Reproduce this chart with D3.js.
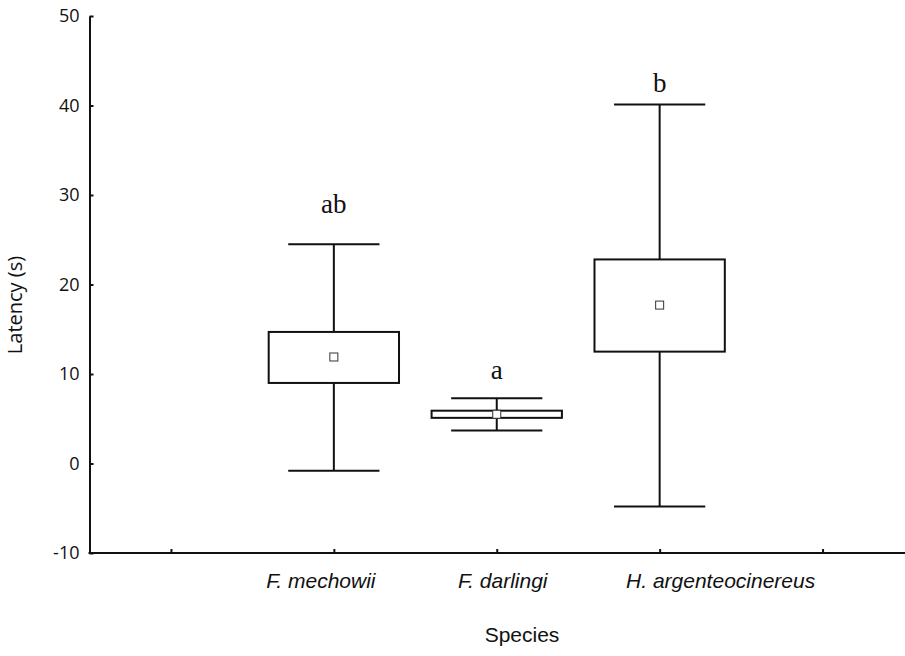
<!DOCTYPE html>
<html>
<head>
<meta charset="utf-8">
<script src="https://cdn.jsdelivr.net/npm/d3@7"></script>
<style>
  html, body { margin: 0; padding: 0; background: #fff; }
  svg { display: block; }
</style>
</head>
<body>
<svg id="chart" width="905" height="656"></svg>
<script>
// ---- data ----
const slots = ["", "F. mechowii", "F. darlingi", "H. argenteocinereus", " "];
const species = ["F. mechowii", "F. darlingi", "H. argenteocinereus"];
const means = [11.9, 5.5, 17.7];
const boxLow = [9.0, 5.1, 12.5];
const boxHigh = [14.7, 5.9, 22.8];
const whiskerLow = [-0.8, 3.7, -4.8];
const whiskerHigh = [24.5, 7.3, 40.1];
const groupLetters = ["ab", "a", "b"];
const letterValues = [28.0, 9.4, 41.5];
const yTicks = [-10, 0, 10, 20, 30, 40, 50];

// ---- layout ----
const svg = d3.select("#chart");
const mLeft = 89.5, mRight = 904, mTop = 16, mBottom = 553;
const labelShift = [-13, 6, 61];

const x = d3.scalePoint().domain(slots).range([mLeft, mRight]).padding(0.5);
const step = x.step();
const y = d3.scaleLinear().domain([-10, 50]).range([mBottom, mTop]);

const ink = "#111";

// y axis
const yAxis = d3.axisLeft(y).tickValues(yTicks).tickFormat(d => String(d))
  .tickSize(-4).tickPadding(10).tickSizeOuter(0);
const gy = svg.append("g").attr("transform", `translate(${mLeft},0)`).call(yAxis);
gy.select(".domain").attr("stroke", ink).attr("stroke-width", 2);
gy.selectAll(".tick line").attr("stroke", ink).attr("stroke-width", 2);
gy.selectAll(".tick text").attr("font-family", "'Open Sans', sans-serif").attr("font-size", 18).attr("fill", ink);

// x axis
const xAxis = d3.axisBottom(x).tickSize(-4).tickSizeOuter(0).tickFormat("");
const gx = svg.append("g").attr("transform", `translate(0,${mBottom})`).call(xAxis);
gx.select(".domain").attr("stroke", ink).attr("stroke-width", 2).attr("d", `M${mLeft - 1},0H${mRight + 1}`);
gx.selectAll(".tick line").attr("stroke", ink).attr("stroke-width", 2);

// category labels
svg.append("g").selectAll("text").data(species).join("text")
  .attr("x", (d, i) => x(d) + labelShift[i])
  .attr("y", 588)
  .attr("text-anchor", "middle")
  .attr("font-family", "'Liberation Sans', Arial, sans-serif")
  .attr("font-style", "italic")
  .attr("font-size", 21)
  .attr("fill", ink)
  .text(d => d);

// axis titles
svg.append("text")
  .attr("x", 522).attr("y", 642)
  .attr("text-anchor", "middle")
  .attr("font-family", "'Liberation Sans', Arial, sans-serif")
  .attr("font-size", 21).attr("fill", ink)
  .text("Species");

svg.append("text")
  .attr("transform", `translate(22,305) rotate(-90)`)
  .attr("text-anchor", "middle")
  .attr("font-family", "'Open Sans', sans-serif")
  .attr("font-size", 20).attr("fill", ink)
  .text("Latency (s)");

// boxes
const boxW = step * 0.8;
const capW = step * 0.56;
const g = svg.append("g").selectAll("g").data(species).join("g");

g.append("line")
  .attr("x1", d => x(d)).attr("x2", d => x(d))
  .attr("y1", (d, i) => y(whiskerHigh[i])).attr("y2", (d, i) => y(boxHigh[i]))
  .attr("stroke", ink).attr("stroke-width", 2);
g.append("line")
  .attr("x1", d => x(d)).attr("x2", d => x(d))
  .attr("y1", (d, i) => y(boxLow[i])).attr("y2", (d, i) => y(whiskerLow[i]))
  .attr("stroke", ink).attr("stroke-width", 2);
g.append("line")
  .attr("x1", d => x(d) - capW / 2).attr("x2", d => x(d) + capW / 2)
  .attr("y1", (d, i) => y(whiskerHigh[i])).attr("y2", (d, i) => y(whiskerHigh[i]))
  .attr("stroke", ink).attr("stroke-width", 2);
g.append("line")
  .attr("x1", d => x(d) - capW / 2).attr("x2", d => x(d) + capW / 2)
  .attr("y1", (d, i) => y(whiskerLow[i])).attr("y2", (d, i) => y(whiskerLow[i]))
  .attr("stroke", ink).attr("stroke-width", 2);
g.append("rect")
  .attr("x", d => x(d) - boxW / 2).attr("width", boxW)
  .attr("y", (d, i) => y(boxHigh[i]))
  .attr("height", (d, i) => y(boxLow[i]) - y(boxHigh[i]))
  .attr("fill", "#fff").attr("stroke", ink).attr("stroke-width", 2);
g.append("rect")
  .attr("x", d => x(d) - 4).attr("width", 8)
  .attr("y", (d, i) => y(means[i]) - 4).attr("height", 8)
  .attr("fill", "#fff").attr("stroke", "#333").attr("stroke-width", 1);

// group letters
g.append("text")
  .attr("x", d => x(d)).attr("y", (d, i) => y(letterValues[i]))
  .attr("text-anchor", "middle")
  .attr("font-family", "'Liberation Serif', 'Times New Roman', serif")
  .attr("font-size", 27).attr("fill", ink)
  .text((d, i) => groupLetters[i]);
</script>
</body>
</html>
